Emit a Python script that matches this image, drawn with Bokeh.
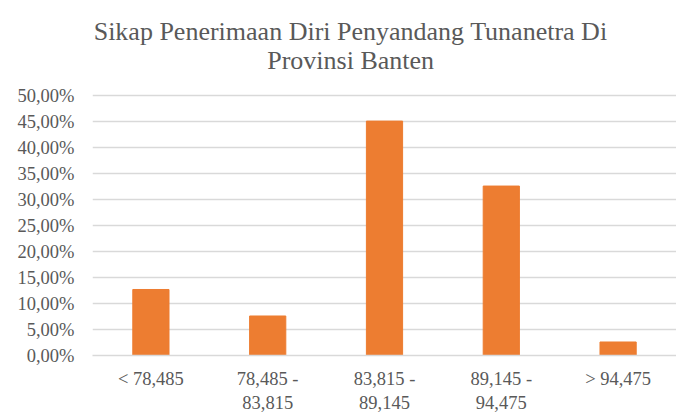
from bokeh.plotting import figure
from bokeh.models import Range1d, FixedTicker, Label
from bokeh.embed import file_html
from bokeh.resources import INLINE

categories = ["< 78,485", "78,485 -\n83,815", "83,815 -\n89,145", "89,145 -\n94,475", "> 94,475"]
values = [12.7, 7.6, 45.1, 32.6, 2.6]
y_ticks = [0, 5, 10, 15, 20, 25, 30, 35, 40, 45, 50]
y_tick_labels = ["0,00%", "5,00%", "10,00%", "15,00%", "20,00%", "25,00%",
                 "30,00%", "35,00%", "40,00%", "45,00%", "50,00%"]
title_lines = ["Sikap Penerimaan Diri Penyandang Tunanetra Di", "Provinsi Banten"]

FONT = "Liberation Serif"
GRAY = "#595959"
GRID = "#D9D9D9"
BAR = "#ED7D31"

# frame extends to the top edge so the title can sit inside it; ticks/grid stop at 50 %
p = figure(x_range=categories, y_range=Range1d(0, 68.3), width=676, height=416,
           output_backend="svg", toolbar_location=None,
           min_border_left=92, min_border_right=0, min_border_top=0, min_border_bottom=61)
p.outline_line_color = None

for t, ty in zip(title_lines, [62.3, 56.7]):
    p.add_layout(Label(x=2.21, y=ty, text=t, text_align="center", text_baseline="alphabetic",
                       text_font=FONT, text_font_size="26px", text_color=GRAY))

p.vbar(x=categories, top=values, width=0.31, color=BAR, line_color=BAR)

p.yaxis.ticker = FixedTicker(ticks=y_ticks)
p.yaxis.major_label_overrides = {t: l for t, l in zip(y_ticks, y_tick_labels)}

for ax in (p.xaxis, p.yaxis):
    ax.major_label_text_font = FONT
    ax.major_label_text_font_size = "18.5px"
    ax.major_label_text_color = GRAY
    ax.major_tick_line_color = None
    ax.minor_tick_line_color = None
p.yaxis.axis_line_color = None
p.xaxis.axis_line_color = GRID
p.xaxis.axis_line_width = 1.5
p.yaxis.major_label_standoff = 12
p.xaxis.major_label_standoff = 7
p.xaxis.major_label_text_line_height = 1.2

p.xgrid.grid_line_color = None
p.ygrid.grid_line_color = GRID
p.ygrid.grid_line_width = 1.5

open("out.html", "w").write(file_html(p, INLINE))
